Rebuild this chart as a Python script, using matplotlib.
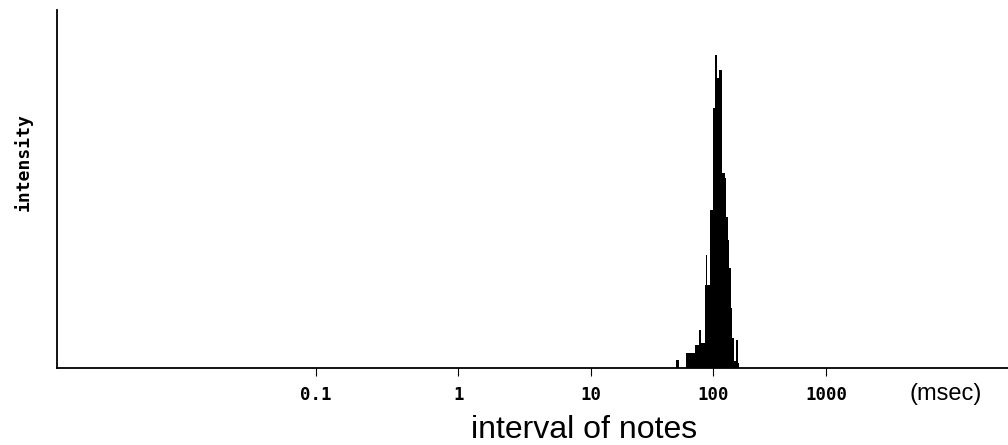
import matplotlib
matplotlib.use('Agg')
import matplotlib.pyplot as plt
import numpy as np

# histogram of note intervals (msec), heights relative to the tallest bin
edges = [49, 52, 59, 61, 70, 76, 79, 85, 87, 89, 94, 99, 103, 107, 112,
         118, 125, 128, 133, 137, 141, 145, 152, 158, 162, 168]
intensity = [2.6, 0, 4.8, 4.8, 7.3, 12.1, 8.0, 26.5, 36.0, 26.5, 50.5, 83.0,
             100.0, 92.6, 95.2, 62.3, 60.7, 48.2, 40.9, 32.0, 19.2, 9.6, 2.2,
             8.9, 1.6]

tick_values = [0.1, 1, 10, 100, 1000]
tick_labels = ['0.1', '1', '10', '100', '1000']

# the original axis is log-like but the decades shrink a little to the right
k = 0.03867


def forward(x):
    v = np.log10(np.clip(x, 1e-12, None)) - 1
    return v - k * v**2


def inverse(f):
    d = np.clip(1 - 4 * k * f, 0, None)
    v = (1 - np.sqrt(d)) / (2 * k)
    return 10**(v + 1)


fig = plt.figure(figsize=(10.08, 4.45), dpi=100)
ax = fig.add_axes([57/1008, 77/445, 951/1008, 358/445])

ax.stairs(intensity, edges, fill=True, color='black', linewidth=0)

ax.set_xscale('function', functions=(forward, inverse))
ax.set_xlim(0.00216, 7.0e4)
ax.set_ylim(0, 114.4)

ax.xaxis.set_minor_locator(matplotlib.ticker.NullLocator())
ax.set_xticks(tick_values)
ax.set_xticklabels(tick_labels, family='DejaVu Sans Mono', weight='bold', fontsize=12.5)
ax.tick_params(axis='x', direction='out', length=6, width=0.8, pad=7)
ax.set_yticks([])

for s in ['top', 'right']:
    ax.spines[s].set_visible(False)
for s in ['left', 'bottom']:
    ax.spines[s].set_linewidth(1.3)

fig.text(946/1008, (445-400)/445, '(msec)', family='Liberation Sans',
         fontsize=17, ha='center', va='baseline')
fig.text(584/1008, (445-438)/445, 'interval of notes', family='Liberation Sans',
         fontsize=23, ha='center', va='baseline')
fig.text(23/1008, (445-162)/445, 'intensity', family='DejaVu Sans Mono',
         weight='bold', fontsize=13, rotation=90, ha='center', va='center')

fig.savefig('out.png', dpi=100)
